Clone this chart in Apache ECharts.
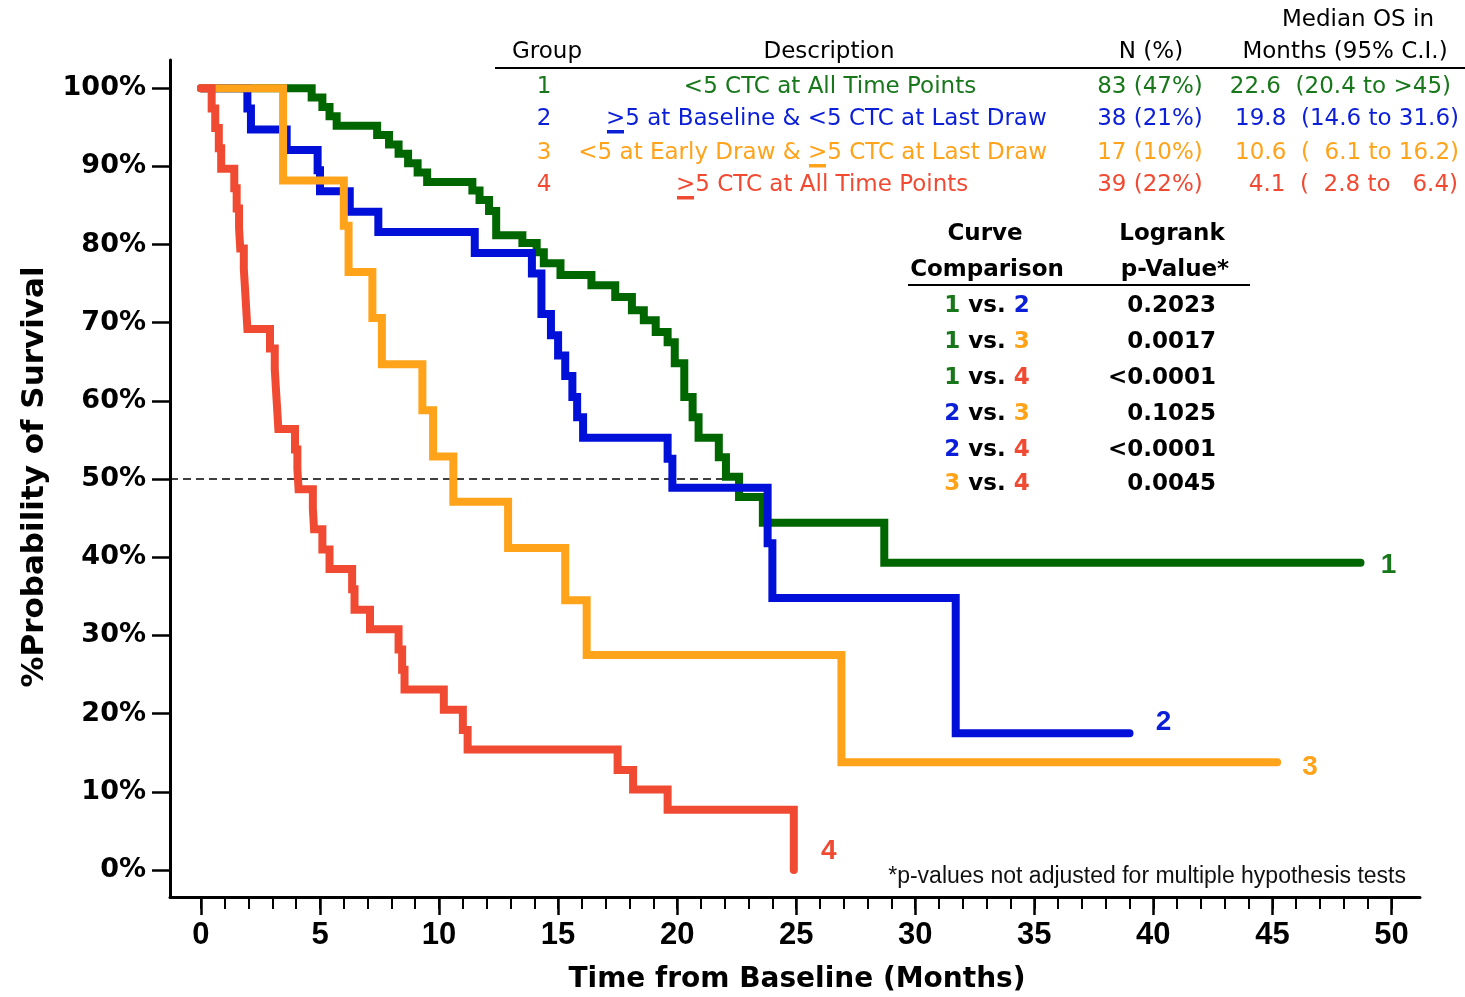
<!DOCTYPE html>
<html>
<head>
<meta charset="utf-8">
<title>Overall survival by CTC group</title>
<script src="https://cdn.jsdelivr.net/npm/echarts@6/dist/echarts.min.js"></script>
<style>
html, body { margin: 0; padding: 0; background: #fff; }
#main { width: 1465px; height: 997px; }
</style>
</head>
<body>
<div id="main"></div>
<script>
// Kaplan-Meier steps: time (months) and survival (%)
var g1Time = [0, 4.65, 5.1, 5.4, 5.7, 7.4, 7.9, 8.3, 8.7, 9.1, 9.5, 11.4, 11.7, 12.1, 12.4, 13.5, 14.1, 14.4, 15.1, 16.4, 17.4, 18.1, 18.6, 19.1, 19.6, 19.9, 20.3, 20.65, 20.9, 21.75, 22.05, 22.6, 23.6, 28.7, 48.7];
var g1Surv = [100, 98.8, 97.6, 96.4, 95.2, 94.0, 92.8, 91.6, 90.4, 89.2, 88.0, 86.9, 85.7, 84.3, 81.2, 80.2, 79.0, 77.6, 76.1, 74.8, 73.3, 71.6, 70.3, 68.8, 67.5, 64.8, 60.5, 57.9, 55.3, 52.8, 50.3, 47.7, 44.4, 39.3, 39.3];

var g2Time = [0, 1.95, 2.1, 3.6, 4.9, 5.0, 6.25, 7.45, 11.5, 13.9, 14.3, 14.7, 15.0, 15.3, 15.6, 15.8, 16.05, 19.6, 19.8, 23.8, 24.0, 31.7, 39.0];
var g2Surv = [100, 97.4, 94.7, 92.1, 89.5, 86.8, 84.2, 81.6, 78.9, 76.3, 71.1, 68.4, 65.8, 63.2, 60.5, 57.9, 55.3, 52.6, 48.9, 41.8, 34.8, 17.5, 17.5];

var g3Time = [0, 3.45, 6.0, 6.2, 7.2, 7.6, 9.3, 9.75, 10.6, 12.9, 15.3, 16.2, 26.9, 45.2];
var g3Surv = [100, 88.2, 82.4, 76.5, 70.6, 64.7, 58.8, 52.9, 47.1, 41.2, 34.5, 27.5, 13.8, 13.8];

var g4Time = [0, 0.45, 0.6, 0.75, 0.85, 1.4, 1.5, 1.6, 1.65, 1.8, 1.85, 1.9, 1.95, 2.9, 3.1, 3.15, 3.2, 3.25, 3.95, 4.05, 4.1, 4.7, 4.75, 5.1, 5.4, 6.35, 6.45, 7.1, 8.3, 8.45, 8.55, 10.2, 11.0, 11.2, 17.5, 18.15, 19.6, 24.9];
var g4Surv = [100, 97.4, 94.9, 92.3, 89.7, 87.2, 84.6, 82.1, 79.5, 76.9, 74.4, 71.8, 69.2, 66.7, 64.1, 61.5, 59.0, 56.4, 53.8, 51.3, 48.7, 46.2, 43.6, 41.0, 38.5, 35.9, 33.3, 30.8, 28.2, 25.6, 23.1, 20.5, 17.9, 15.4, 12.8, 10.3, 7.7, 0];

var xMajorTicks = [0, 5, 10, 15, 20, 25, 30, 35, 40, 45, 50];
var xMinorTicks = [];
for (var i = 0; i <= 50; i++) xMinorTicks.push(i);
var yTicks = [0, 10, 20, 30, 40, 50, 60, 70, 80, 90, 100];

var medianRef = 50;      // dashed 50% reference
var medianRefEnd = 22.6; // up to the group 1 median

var groupIds = ['1', '2', '3', '4'];
var groupDesc = ['<5 CTC at All Time Points', '>5 at Baseline & <5 CTC at Last Draw', '<5 at Early Draw & >5 CTC at Last Draw', '>5 CTC at All Time Points'];
var groupN = ['83 (47%)', '38 (21%)', '17 (10%)', '39 (22%)'];
var groupMedian = ['22.6  (20.4 to >45)', '19.8  (14.6 to 31.6)', '10.6  (  6.1 to 16.2)', '4.1  (  2.8 to   6.4)'];

var compA = ['1', '1', '1', '2', '2', '3'];
var compB = ['2', '3', '4', '3', '4', '4'];
var compP = ['0.2023', '0.0017', '<0.0001', '0.1025', '<0.0001', '0.0045'];

var lineColors = ['#006600', '#0010d8', '#ffa31a', '#f04a32'];
var textColors = ['#17771a', '#0b1fd8', '#ffa31a', '#f04a32'];

var xMin = -1.3, xMax = 51.2, yMin = -3.45, yMax = 103.6;

var curves = [[g1Time, g1Surv], [g2Time, g2Surv], [g3Time, g3Surv], [g4Time, g4Surv]];
var endOffsets = [[28, 3], [34, -11], [33, 5], [35, -19]];

var chart = echarts.init(document.getElementById('main'));

var series = [{
    type: 'line',
    data: [[xMin, medianRef], [medianRefEnd, medianRef]],
    symbol: 'none',
    silent: true,
    lineStyle: { color: '#000', width: 1.5, type: [8, 5] },
    z: 1
}];

curves.forEach(function (c, k) {
    var pts = [];
    for (var j = 0; j < c[0].length; j++) pts.push([c[0][j], c[1][j]]);
    var last = pts[pts.length - 1];
    series.push({
        name: groupIds[k],
        type: 'line',
        step: 'end',
        data: pts,
        symbol: 'none',
        showSymbol: false,
        z: 2 + k,
        lineStyle: { color: lineColors[k], width: 8, cap: 'round', join: 'miter' },
        markPoint: {
            symbol: 'circle',
            symbolSize: 0,
            silent: true,
            data: [{ coord: last }],
            label: {
                show: true,
                position: 'inside',
                formatter: groupIds[k],
                color: textColors[k],
                fontSize: 28,
                fontWeight: 'bold',
                fontFamily: 'Liberation Sans',
                textBorderWidth: 0,
                offset: endOffsets[k]
            }
        }
    });
});

var FT = '23px "DejaVu Sans"';
var FC = 'bold 23px "DejaVu Sans"';

function txt(s, x, y, opt) {
    return {
        type: 'text', x: x, y: y, silent: true,
        style: Object.assign({ text: s, font: FT, fill: '#000', align: 'center', verticalAlign: 'middle' }, opt || {})
    };
}
function hline(x1, x2, y, w) {
    return { type: 'line', silent: true, shape: { x1: x1, y1: y, x2: x2, y2: y }, style: { stroke: '#000', lineWidth: w } };
}
function uline(x, y, w, color) {
    return { type: 'rect', silent: true, shape: { x: x, y: y, width: w, height: 3.5 }, style: { fill: color } };
}

var graphics = [];
// axis titles
graphics.push(txt('%Probability of Survival', 35, 477, { font: 'bold 31px "DejaVu Sans"' }));
graphics[graphics.length - 1].rotation = Math.PI / 2;
graphics.push(txt('Time from Baseline (Months)', 797, 980, { font: 'bold 28px "DejaVu Sans"' }));

// group table
graphics.push(txt('Median OS in', 1358, 20));
graphics.push(txt('Group', 547, 52));
graphics.push(txt('Description', 829, 52));
graphics.push(txt('N (%)', 1151, 52));
graphics.push(txt('Months (95% C.I.)', 1345, 52));
graphics.push(hline(495, 1465, 68, 2));

var rowY = [87, 119, 153, 185];
var medEnd = [1451, 1459, 1459, 1458];
groupIds.forEach(function (g, k) {
    var y = rowY[k], col = textColors[k];
    graphics.push(txt(g, 544, y, { fill: col }));
    graphics.push(txt(groupN[k], 1150, y, { fill: col }));
    graphics.push(txt(groupMedian[k], medEnd[k], y, { fill: col, align: 'right' }));
});
graphics.push(txt(groupDesc[0], 830, rowY[0], { fill: textColors[0] }));
graphics.push(txt(groupDesc[1], 606, rowY[1], { fill: textColors[1], align: 'left' }));
graphics.push(uline(607, rowY[1] + 11, 17, textColors[1]));
var d3 = groupDesc[2].split('>');
graphics.push(txt(d3[0], 808, rowY[2], { fill: textColors[2], align: 'right' }));
graphics.push(txt('>' + d3[1], 808, rowY[2], { fill: textColors[2], align: 'left' }));
graphics.push(uline(809, rowY[2] + 11, 17, textColors[2]));
graphics.push(txt(groupDesc[3], 676, rowY[3], { fill: textColors[3], align: 'left' }));
graphics.push(uline(677, rowY[3] + 11, 17, textColors[3]));

// curve comparison table
graphics.push(txt('Curve', 985, 234, { font: FC }));
graphics.push(txt('Logrank', 1172, 234, { font: FC }));
graphics.push(txt('Comparison', 987, 270, { font: FC }));
graphics.push(txt('p-Value*', 1175, 270, { font: FC }));
graphics.push(hline(908, 1250, 285, 2));
var richCols = {};
groupIds.forEach(function (g, k) { richCols['c' + g] = { fill: textColors[k], font: FC }; });
var compY = [306, 342, 378, 414, 450, 484];
compA.forEach(function (a, k) {
    graphics.push(txt('{c' + a + '|' + a + '} vs. {c' + compB[k] + '|' + compB[k] + '}', 987, compY[k], { font: FC, rich: richCols }));
    graphics.push(txt(compP[k], 1216, compY[k], { font: FC, align: 'right' }));
});

graphics.push(txt('*p-values not adjusted for multiple hypothesis tests', 1406, 877,
    { font: '23px "Liberation Sans"', align: 'right', fill: '#111' }));

var option = {
    animation: false,
    backgroundColor: '#fff',
    grid: { left: 170, right: 45, top: 60, bottom: 100, containLabel: false },
    xAxis: [{
        type: 'value', min: xMin, max: xMax,
        axisLine: { show: true, onZero: false, lineStyle: { color: '#000', width: 3 } },
        axisTick: { show: true, length: 18, customValues: xMajorTicks, lineStyle: { color: '#000', width: 2.5 } },
        axisLabel: { customValues: xMajorTicks, margin: 23, color: '#000', fontSize: 31, fontWeight: 'bold', fontFamily: 'Liberation Sans' },
        splitLine: { show: false }
    }, {
        type: 'value', min: xMin, max: xMax, position: 'bottom', offset: 0,
        axisLine: { show: false, onZero: false },
        axisTick: { show: true, length: 12, customValues: xMinorTicks, lineStyle: { color: '#000', width: 2 } },
        axisLabel: { show: false },
        splitLine: { show: false }
    }],
    yAxis: {
        type: 'value', min: yMin, max: yMax,
        axisLine: { show: true, onZero: false, lineStyle: { color: '#000', width: 3 } },
        axisTick: { show: true, length: 18, customValues: yTicks, lineStyle: { color: '#000', width: 2.5 } },
        axisLabel: { customValues: yTicks, formatter: '{value}%', margin: 24, color: '#000', fontSize: 27, fontWeight: 'bold', fontFamily: 'DejaVu Sans' },
        splitLine: { show: false }
    },
    series: series,
    graphic: graphics
};

chart.setOption(option);
</script>
</body>
</html>
